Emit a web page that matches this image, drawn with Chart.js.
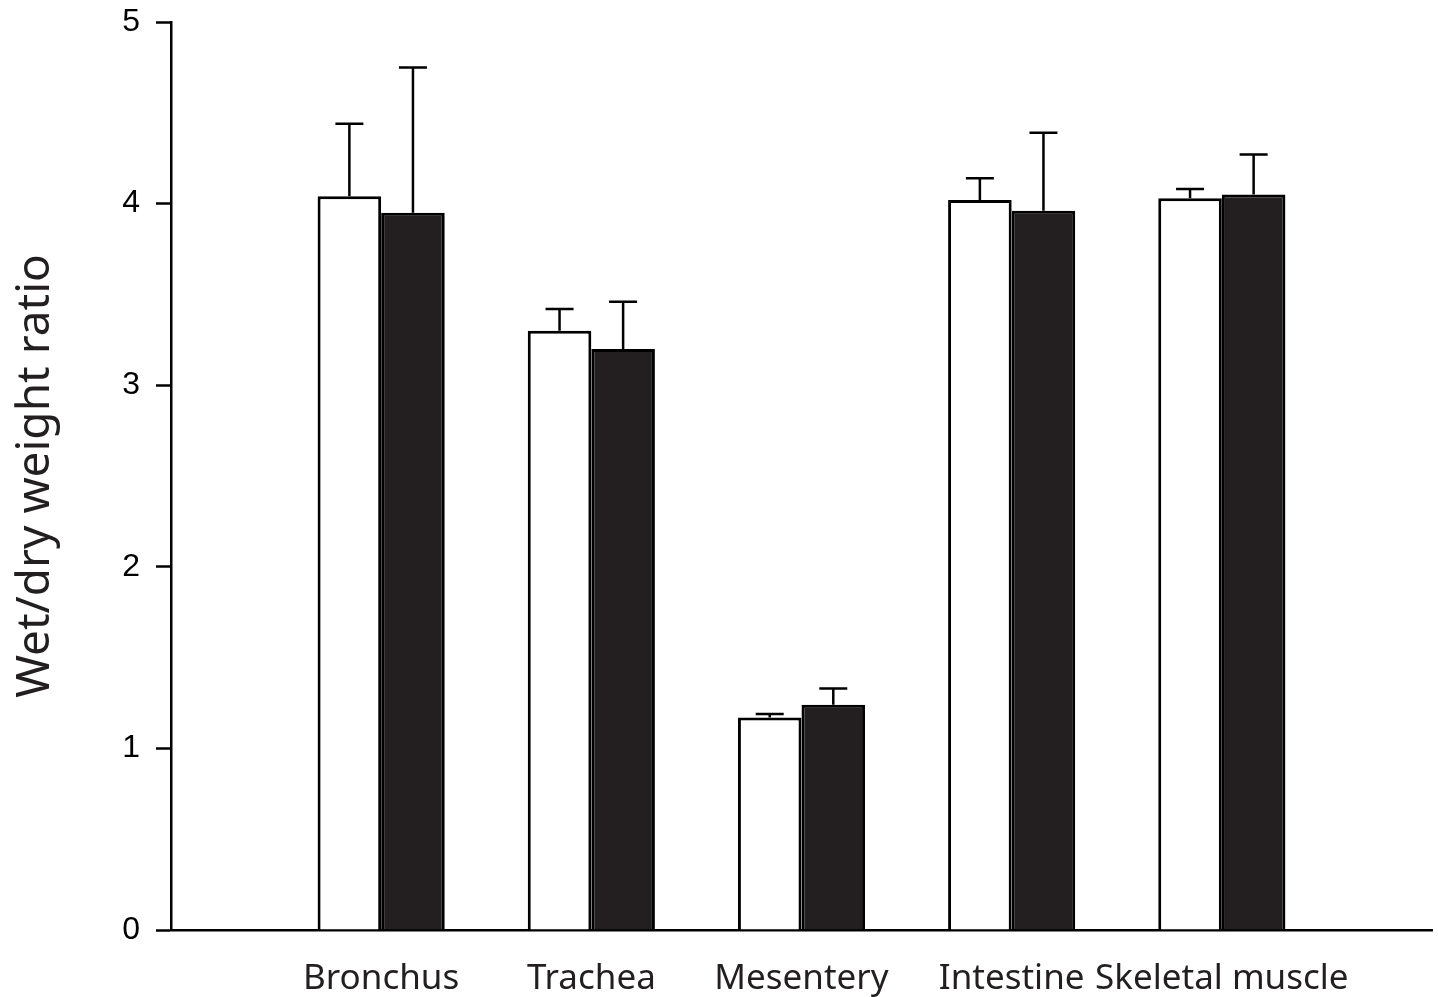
<!DOCTYPE html>
<html>
<head>
<meta charset="utf-8">
<script src="https://cdn.jsdelivr.net/npm/chart.js@4"></script>
<style>
  html, body { margin: 0; padding: 0; background: #fff; }
  #wrap { width: 1438px; height: 997px; }
</style>
</head>
<body>
<div id="wrap"><canvas id="myChart" width="1438" height="997"></canvas></div>
<script>
// tissues (blank slots at both ends leave the gap seen in the figure)
const tissues = ['', 'Bronchus', 'Trachea', 'Mesentery', 'Intestine', 'Skeletal muscle', ''];
const yTicks = [0, 1, 2, 3, 4, 5];

// white bars and their upper error
const whiteMean = [4.04, 3.30, 1.17, 4.02, 4.03];
const whiteErr = [0.40, 0.12, 0.02, 0.12, 0.05];
// black bars and their upper error
const blackMean = [3.95, 3.20, 1.24, 3.96, 4.05];
const blackErr = [0.80, 0.26, 0.09, 0.43, 0.22];

const pad = arr => [null, ...arr, null];

// draws the error bars (upper half only) over each bar
const errorBars = {
  id: 'errorBars',
  afterDatasetsDraw(chart) {
    const ctx = chart.ctx;
    const y = chart.scales.y;
    chart.data.datasets.forEach((ds, di) => {
      const meta = chart.getDatasetMeta(di);
      meta.data.forEach((bar, i) => {
        const v = ds.data[i];
        const e = ds.errors[i];
        if (v == null || e == null) return;
        const yTop = y.getPixelForValue(v + e);
        const yBase = y.getPixelForValue(v);
        ctx.save();
        ctx.strokeStyle = '#000';
        ctx.lineWidth = 2.5;
        ctx.beginPath();
        ctx.moveTo(bar.x, yBase);
        ctx.lineTo(bar.x, yTop);
        ctx.moveTo(bar.x - 14, yTop);
        ctx.lineTo(bar.x + 14, yTop);
        ctx.stroke();
        ctx.restore();
      });
    });
  }
};

const myChart = new Chart(document.getElementById('myChart'), {
  type: 'bar',
  data: {
    labels: tissues,
    datasets: [{
      label: 'white',
      data: pad(whiteMean),
      errors: pad(whiteErr),
      backgroundColor: '#ffffff',
      borderColor: '#000000',
      borderWidth: 3,
      categoryPercentage: 0.605,
      barPercentage: 1
    }, {
      label: 'black',
      data: pad(blackMean),
      errors: pad(blackErr),
      backgroundColor: '#231f20',
      borderColor: '#000000',
      borderWidth: 3,
      categoryPercentage: 0.605,
      barPercentage: 1
    }]
  },
  options: {
    responsive: false,
    devicePixelRatio: 1,
    animation: false,
    layout: { padding: { top: 22, right: 6, left: 0, bottom: 0 } },
    plugins: {
      legend: { display: false },
      tooltip: { enabled: false }
    },
    scales: {
      x: {
        offset: false,
        grid: { display: false },
        border: { display: true, color: '#000', width: 2.5 },
        ticks: {
          autoSkip: false,
          maxRotation: 0,
          padding: 20,
          color: '#231f20',
          font: { family: 'Noto Sans', size: 35 }
        },
        afterFit(scale) {
          scale.height = 67;
          scale.paddingLeft = 0;
          scale.paddingRight = 0;
        }
      },
      y: {
        min: 0,
        max: 5,
        afterBuildTicks(scale) { scale.ticks = yTicks.map(v => ({ value: v })); },
        grid: {
          drawOnChartArea: false,
          drawTicks: true,
          tickLength: 15,
          tickWidth: 2.5,
          tickColor: '#000'
        },
        border: { display: true, color: '#000', width: 2.5 },
        ticks: {
          padding: 16,
          color: '#000',
          font: { family: 'Arial, Liberation Sans', size: 32 }
        },
        title: {
          display: true,
          text: 'Wet/dry weight ratio',
          color: '#231f20',
          font: { family: 'Noto Sans', size: 46 },
          padding: { top: 8, bottom: 0 }
        },
        afterFit(scale) {
          scale.width = 171;
          scale.paddingTop = 0;
          scale.paddingBottom = 0;
        }
      }
    }
  },
  plugins: [errorBars]
});
</script>
</body>
</html>
